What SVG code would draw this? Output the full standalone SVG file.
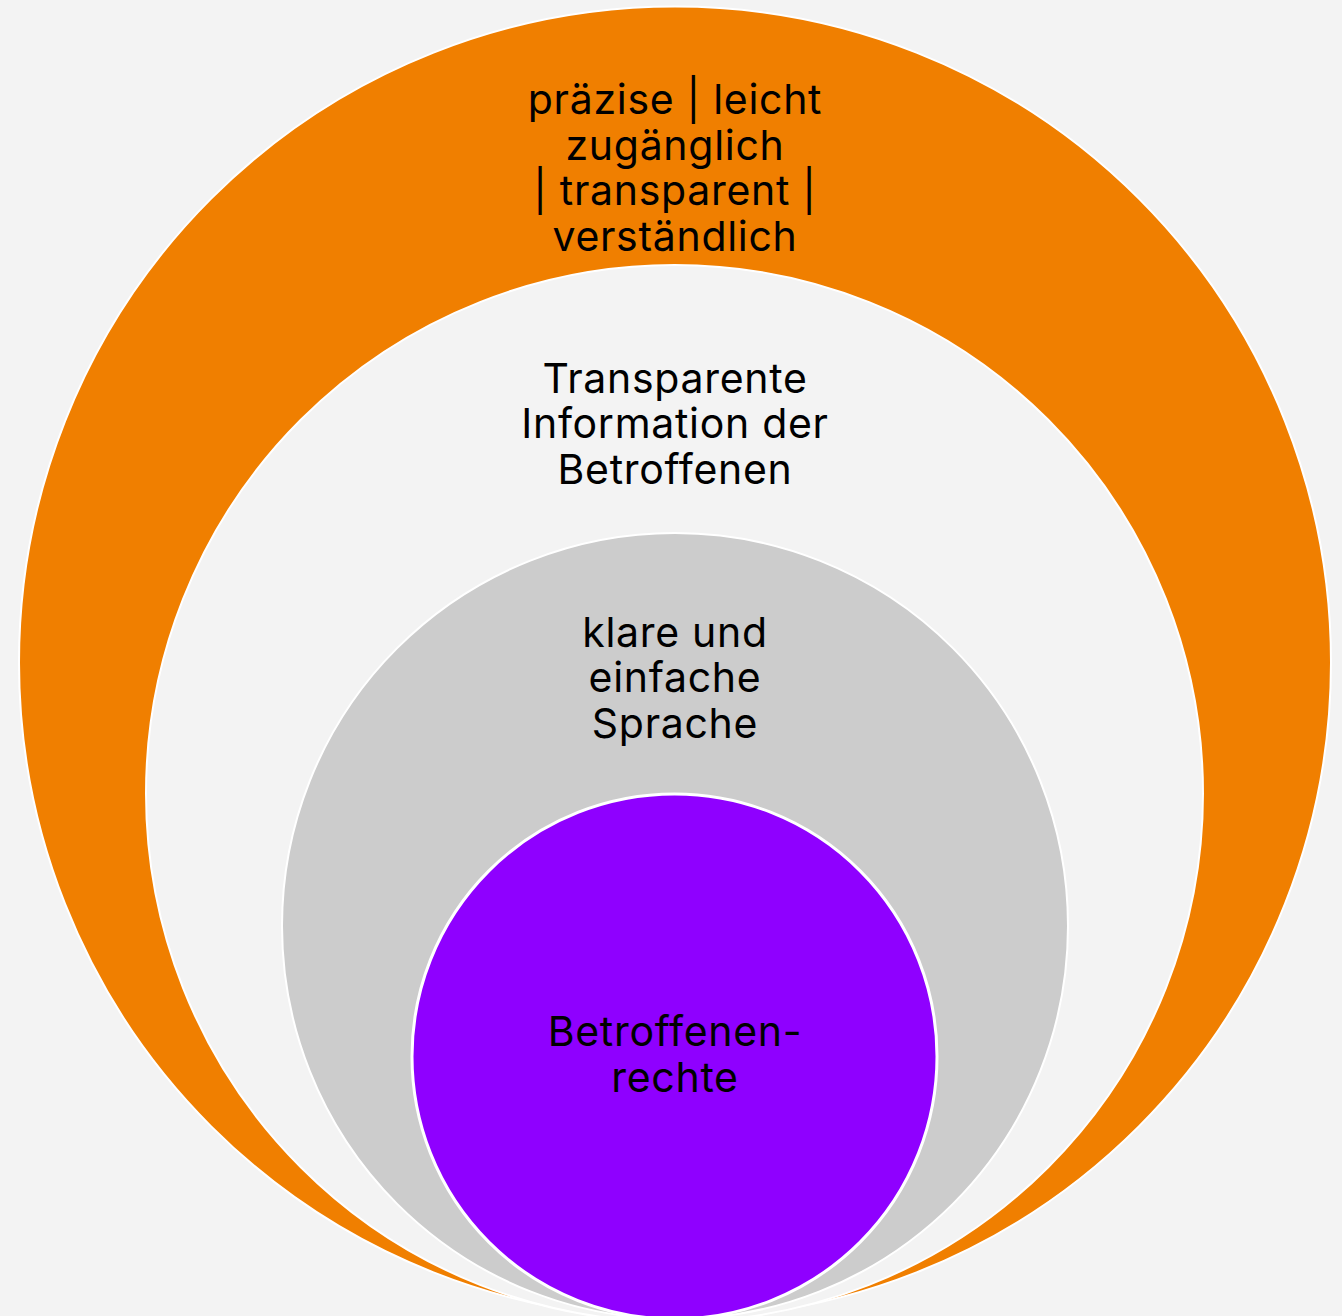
<svg xmlns="http://www.w3.org/2000/svg" width="1342" height="1316" viewBox="0 0 1342 1316">
<style>
.c{stroke:#ffffff;stroke-width:2}
.t{font-family:Inter,"Noto Sans",sans-serif;font-size:41px;letter-spacing:0.7px;fill:#000;text-anchor:middle}
</style>
<rect width="1342" height="1316" fill="#f3f3f3"/>
<g id="outer">
<circle class="c" cx="675" cy="662.5" r="656" fill="#f07f00"/>
<text class="t"><tspan x="675" y="114">präzise | leicht</tspan><tspan x="675" y="159.5">zugänglich</tspan><tspan x="675" y="205">| transparent |</tspan><tspan x="675" y="250.5">verständlich</tspan></text>
</g>
<g id="info">
<circle class="c" cx="674.5" cy="793.5" r="528.5" fill="#f3f3f3"/>
<text class="t"><tspan x="675" y="392.5">Transparente</tspan><tspan x="675" y="438">Information der</tspan><tspan x="675" y="483.5">Betroffenen</tspan></text>
</g>
<g id="sprache">
<circle class="c" cx="675" cy="926" r="393" fill="#cccccc"/>
<text class="t"><tspan x="675" y="646.5">klare und</tspan><tspan x="675" y="692">einfache</tspan><tspan x="675" y="737.5">Sprache</tspan></text>
</g>
<g id="rechte">
<circle cx="674.5" cy="1056.5" r="262.5" fill="#8f00ff" stroke="#ffffff" stroke-width="3"/>
<text class="t"><tspan x="675" y="1046">Betroffenen-</tspan><tspan x="675" y="1091.5">rechte</tspan></text>
</g>
<g id="connectors"/>
</svg>
